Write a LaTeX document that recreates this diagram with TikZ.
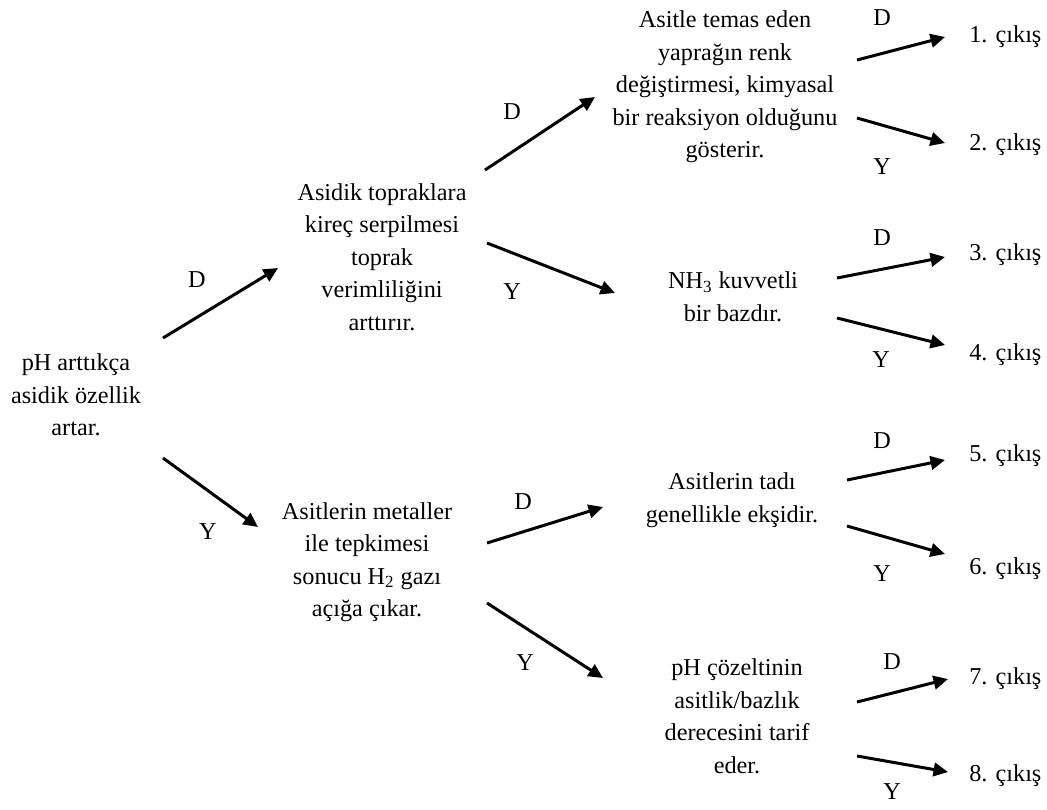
\documentclass[tikz,border=0pt]{standalone}
\usepackage{fontspec}
\setmainfont{Liberation Serif}
\usetikzlibrary{arrows.meta}

\begin{document}
\begin{tikzpicture}[x=0.02cm, y=-0.02cm,
  txt/.style={align=center, inner sep=0pt, font=\fontsize{13.8}{18.5}\selectfont},
  lbl/.style={inner sep=0pt, font=\fontsize{13.8}{18.5}\selectfont},
  exitnode/.style={anchor=west, inner sep=0pt, font=\fontsize{13.8}{18.5}\selectfont},
  arr/.style={-{Triangle[length=0.29cm, width=0.27cm]}, line width=1.7pt}]
\useasboundingbox (0,0) rectangle (1047,809);

  \node[txt] (root) at (76,395) {pH arttıkça\\asidik özellik\\artar.};
  \node[txt] (lime) at (382,257) {Asidik topraklara\\kireç serpilmesi\\toprak\\verimliliğini\\arttırır.};
  \node[txt] (metal) at (367,562) {Asitlerin metaller\\ile tepkimesi\\sonucu H\textsubscript{2} gazı\\açığa çıkar.};
  \node[txt] (leaf) at (725,87) {Asitle temas eden\\yaprağın renk\\değiştirmesi, kimyasal\\bir reaksiyon olduğunu\\gösterir.};
  \node[txt] (ammonia) at (733,297) {NH\textsubscript{3} kuvvetli\\bir bazdır.};
  \node[txt] (taste) at (732,500) {Asitlerin tadı\\genellikle ekşidir.};
  \node[txt] (ph) at (737,716) {pH çözeltinin\\asitlik/bazlık\\derecesini tarif\\eder.};

  \node[exitnode] (out1) at (969,37) {1. çıkış};
  \node[exitnode] (out2) at (969,145) {2. çıkış};
  \node[exitnode] (out3) at (969,255) {3. çıkış};
  \node[exitnode] (out4) at (969,355) {4. çıkış};
  \node[exitnode] (out5) at (969,456) {5. çıkış};
  \node[exitnode] (out6) at (969,569) {6. çıkış};
  \node[exitnode] (out7) at (969,679) {7. çıkış};
  \node[exitnode] (out8) at (969,776) {8. çıkış};

  \draw[arr] ([shift={(87,-57)}]root.center) -- ([shift={(-104,11)}]lime.center);
  \draw[arr] ([shift={(87,63)}]root.center) -- ([shift={(-109,-35)}]metal.center);
  \draw[arr] ([shift={(103,-87)}]lime.center) -- ([shift={(-130,10)}]leaf.center);
  \draw[arr] ([shift={(105,-14)}]lime.center) -- ([shift={(-118,-4)}]ammonia.center);
  \draw[arr] ([shift={(120,-19)}]metal.center) -- ([shift={(-129,7)}]taste.center);
  \draw[arr] ([shift={(120,41)}]metal.center) -- ([shift={(-134,-38)}]ph.center);
  \draw[arr] ([shift={(132,-27)}]leaf.center) -- ([shift={(-24,0)}]out1.west);
  \draw[arr] ([shift={(132,31)}]leaf.center) -- ([shift={(-24,-2)}]out2.west);
  \draw[arr] ([shift={(104,-19)}]ammonia.center) -- ([shift={(-24,2)}]out3.west);
  \draw[arr] ([shift={(104,21)}]ammonia.center) -- ([shift={(-24,-10)}]out4.west);
  \draw[arr] ([shift={(115,-20)}]taste.center) -- ([shift={(-24,4)}]out5.west);
  \draw[arr] ([shift={(115,26)}]taste.center) -- ([shift={(-24,-15)}]out6.west);
  \draw[arr] ([shift={(120,-14)}]ph.center) -- ([shift={(-21,0)}]out7.west);
  \draw[arr] ([shift={(120,40)}]ph.center) -- ([shift={(-21,-4)}]out8.west);

  \node[lbl] (rootD) at (197,280) {D};
  \node[lbl] (rootY) at (208,532) {Y};
  \node[lbl] (limeD) at (512,112) {D};
  \node[lbl] (limeY) at (512,292) {Y};
  \node[lbl] (metalD) at (523,502) {D};
  \node[lbl] (metalY) at (525,663) {Y};
  \node[lbl] (leafD) at (882,18) {D};
  \node[lbl] (leafY) at (882,167) {Y};
  \node[lbl] (ammoniaD) at (882,238) {D};
  \node[lbl] (ammoniaY) at (881,360) {Y};
  \node[lbl] (tasteD) at (882,441) {D};
  \node[lbl] (tasteY) at (882,574) {Y};
  \node[lbl] (phD) at (892,662) {D};
  \node[lbl] (phY) at (892,792) {Y};
\end{tikzpicture}
\end{document}
